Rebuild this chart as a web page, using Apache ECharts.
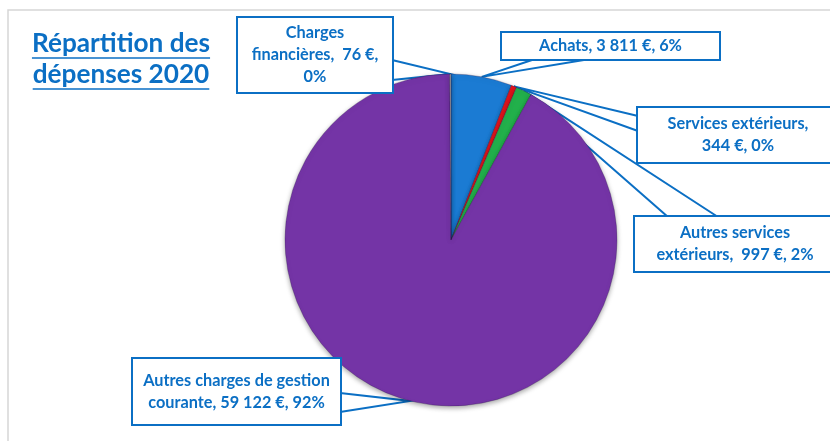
<!DOCTYPE html>
<html><head><meta charset="utf-8">
<script src="https://cdn.jsdelivr.net/npm/echarts@6/dist/echarts.min.js"></script>
<style>html,body{margin:0;padding:0;background:#fff}#c{width:830px;height:441px}</style>
</head><body><div id="c"></div>
<script>
// ---- data ----
const categories = ['Achats', 'Services extérieurs', 'Autres services extérieurs', 'Autres charges de gestion courante', 'Charges financières'];
const values = [3811, 344, 997, 59122, 76];
const percentLabels = ['6%', '0%', '2%', '92%', '0%'];
const titleLines = ['Répartition des', 'dépenses 2020'];

// ---- styles / layout ----
const BLUE = '#0B6FC4';
const colors = ['#1B7BD3', '#E3151C', '#22B04B', '#7434A6', '#A5A5A5'];
const FONT = 'Lato';
const CX = 451, CY = 240, R = 166;

function euro(v) { return String(v).replace(/\B(?=(\d{3})+(?!\d))/g, ' ') + ' €'; }
// how each label's text is broken into lines
const labelFmt = [
  (n, v, p) => `${n}, ${v}, ${p}`,
  (n, v, p) => `${n},\n${v}, ${p}`,
  (n, v, p) => { const w = n.split(' '); return `${w.slice(0, 2).join(' ')}\n${w.slice(2).join(' ')},  ${v}, ${p}`; },
  (n, v, p) => { const w = n.split(' '); return `${w.slice(0, 4).join(' ')}\n${w.slice(4).join(' ')}, ${v}, ${p}`; },
  (n, v, p) => { const w = n.split(' '); return `${w[0]}\n${w.slice(1).join(' ')},  ${v},\n${p}`; }
];
// callout boxes: [left, top, right, bottom], tail base points a, b
const boxes = [
  { r: [502, 33, 719, 59], a: [535, 59], b: [590, 59] },
  { r: [638, 108, 838, 162], a: [638, 116], b: [638, 131] },
  { r: [635, 217, 835, 271], a: [668, 217], b: [718, 217] },
  { r: [133, 359, 340, 424], a: [340, 393], b: [340, 412] },
  { r: [238, 18, 392, 92], a: [392, 60], b: [392, 80] }
];
const LH = 22;

// label font size fitted to the reference text width
const cvs = document.createElement('canvas').getContext('2d');
function fitSize(text, target, weight) {
  let s = 20; cvs.font = `${weight} ${s}px ${FONT}`;
  const w = cvs.measureText(text).width; return Math.round(s * target / w * 10) / 10;
}
const labelSize = Math.min(17, fitSize('Achats, 3 811 €, 6%', 143, 'bold'));
const titleSize = fitSize(titleLines[0], 178, 'bold');

// tip points on the pie edge (mid-angle of each slice)
const total = values.reduce((a, b) => a + b, 0);
let cum = 0;
const tips = values.map(v => {
  const ang = (cum + v / 2) / total * Math.PI * 2; cum += v;
  return [CX + R * Math.sin(ang), CY - R * Math.cos(ang)];
});

const data = categories.map((name, i) => {
  const b = boxes[i].r;
  const lines = labelFmt[i](name, euro(values[i]), percentLabels[i]).split('\n').length;
  const h = b[3] - b[1];
  return {
    name, value: values[i],
    itemStyle: { color: colors[i] },
    label: { width: b[2] - b[0], padding: [(h - lines * LH) / 2, 0] }
  };
});

// title with underline
cvs.font = `bold ${titleSize}px ${FONT}`;
const titleGraphics = [];
const TX = 121, TY = [47, 78];
titleLines.forEach((t, i) => {
  const w = cvs.measureText(t).width;
  titleGraphics.push({ type: 'text', left: TX - w / 2, top: TY[i] - titleSize * 0.62,
    style: { text: t, fill: BLUE, font: `bold ${titleSize}px ${FONT}` } });
  titleGraphics.push({ type: 'line', shape: { x1: TX - w / 2, y1: TY[i] + 11, x2: TX + w / 2, y2: TY[i] + 11 },
    style: { stroke: BLUE, lineWidth: 1.6 } });
});

const chart = echarts.init(document.getElementById('c'), null, { renderer: 'canvas' });
chart.setOption({
  animation: false,
  backgroundColor: '#fff',
  graphic: [
    { type: 'rect', shape: { x: 8, y: 10, width: 840, height: 450 }, style: { fill: 'none', stroke: '#d6d6d6', lineWidth: 1.5 }, z: -1 }
  ].concat(titleGraphics),
  series: [{
    type: 'pie',
    center: [CX, CY],
    radius: R,
    startAngle: 90,
    clockwise: true,
    avoidLabelOverlap: false,
    minShowLabelAngle: 0,
    data,
    itemStyle: { borderColor: 'rgba(40,20,70,0.35)', borderWidth: 0.8, shadowBlur: 5, shadowColor: 'rgba(0,0,0,0.35)', shadowOffsetY: 2 },
    label: {
      show: true, position: 'outside', overflow: 'none',
      formatter: p => labelFmt[p.dataIndex](p.name, euro(p.value), percentLabels[p.dataIndex]),
      color: BLUE, fontFamily: FONT, fontWeight: 'bold', fontSize: labelSize, lineHeight: LH,
      align: 'center', backgroundColor: '#fff', borderColor: BLUE, borderWidth: 2
    },
    labelLine: { show: true, smooth: false, length: 10, length2: 10, lineStyle: { color: BLUE, width: 2 } },
    labelLayout: function (p) {
      const bx = boxes[p.dataIndex];
      const r = bx.r;
      return {
        x: (r[0] + r[2]) / 2, y: (r[1] + r[3]) / 2, align: 'center', verticalAlign: 'middle',
        labelLinePoints: [bx.a, tips[p.dataIndex], bx.b]
      };
    },
    emphasis: { disabled: true }
  }]
});
</script></body></html>
